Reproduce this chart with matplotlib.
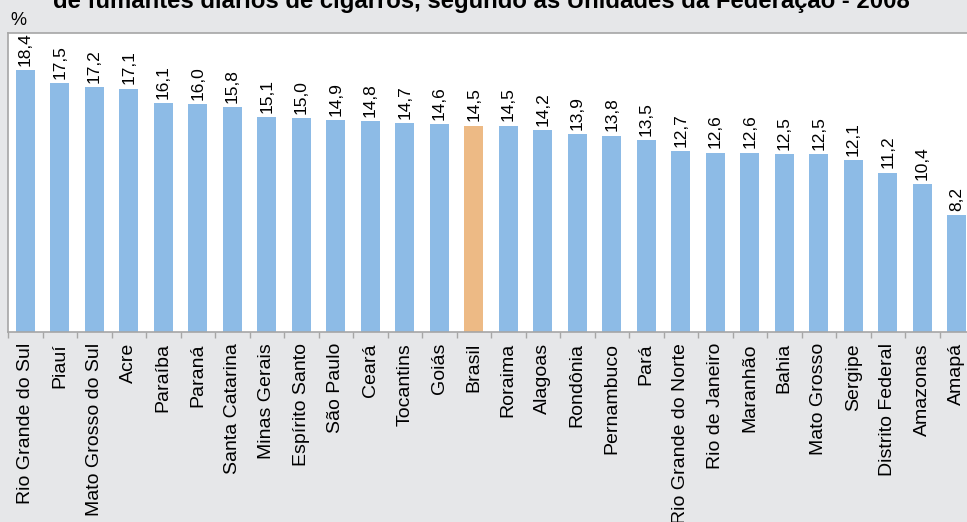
import matplotlib
matplotlib.use("Agg")
import matplotlib.pyplot as plt
import numpy as np

plt.rcParams['font.family'] = ['Liberation Sans', 'DejaVu Sans']

categories = ["Rio Grande do Sul", "Piauí", "Mato Grosso do Sul", "Acre", "Paraíba",
              "Paraná", "Santa Catarina", "Minas Gerais", "Espírito Santo", "São Paulo",
              "Ceará", "Tocantins", "Goiás", "Brasil", "Roraima", "Alagoas", "Rondônia",
              "Pernambuco", "Pará", "Rio Grande do Norte", "Rio de Janeiro", "Maranhão",
              "Bahia", "Mato Grosso", "Sergipe", "Distrito Federal", "Amazonas", "Amapá"]
values = [18.4, 17.5, 17.2, 17.1, 16.1, 16.0, 15.8, 15.1, 15.0, 14.9, 14.8, 14.7, 14.6,
          14.5, 14.5, 14.2, 13.9, 13.8, 13.5, 12.7, 12.6, 12.6, 12.5, 12.5, 12.1, 11.2,
          10.4, 8.2]
highlight = "Brasil"
title = "de fumantes diários de cigarros, segundo as Unidades da Federação - 2008"

blue = "#8DBBE6"
orange = "#EDBA85"
bg = "#E6E7E9"
edge = "#A6A6A6"

fig = plt.figure(figsize=(9.67, 5.22), dpi=100, facecolor=bg)
ax = fig.add_axes([8/967, (522-332)/522, 966/967, (332-33)/522])
ax.set_facecolor("white")

x = np.arange(len(categories))
colors = [orange if c == highlight else blue for c in categories]
bars = ax.bar(x, values, width=0.55, color=colors, zorder=2)

for xi, v in zip(x, values):
    ax.annotate(f"{v:.1f}".replace(".", ","), (xi, v), xytext=(0, 3),
                textcoords="offset points", rotation=90, ha="center", va="bottom",
                fontsize=12.5, color="black")

ax.set_xlim(-0.5, len(categories) - 0.5)
ax.set_ylim(0, 21)
ax.set_yticks([])
ax.set_xticks(x)
ax.set_xticklabels(categories, rotation=90, fontsize=14)
ax.set_xticks(np.arange(len(categories) + 1) - 0.5, minor=True)
ax.tick_params(axis="x", which="major", length=0, pad=8)
ax.tick_params(axis="x", which="minor", length=4, color=edge, width=1)
for s in ax.spines.values():
    s.set_color(edge)
    s.set_linewidth(1.2)

fig.text(481/967, 1 - 8/522, title, ha="center", va="baseline",
         fontsize=17.2, fontweight="bold")
fig.text(10/967, 1 - 25/522, "%", ha="left", va="baseline", fontsize=13)

fig.savefig("out.png", dpi=100, facecolor=bg)
